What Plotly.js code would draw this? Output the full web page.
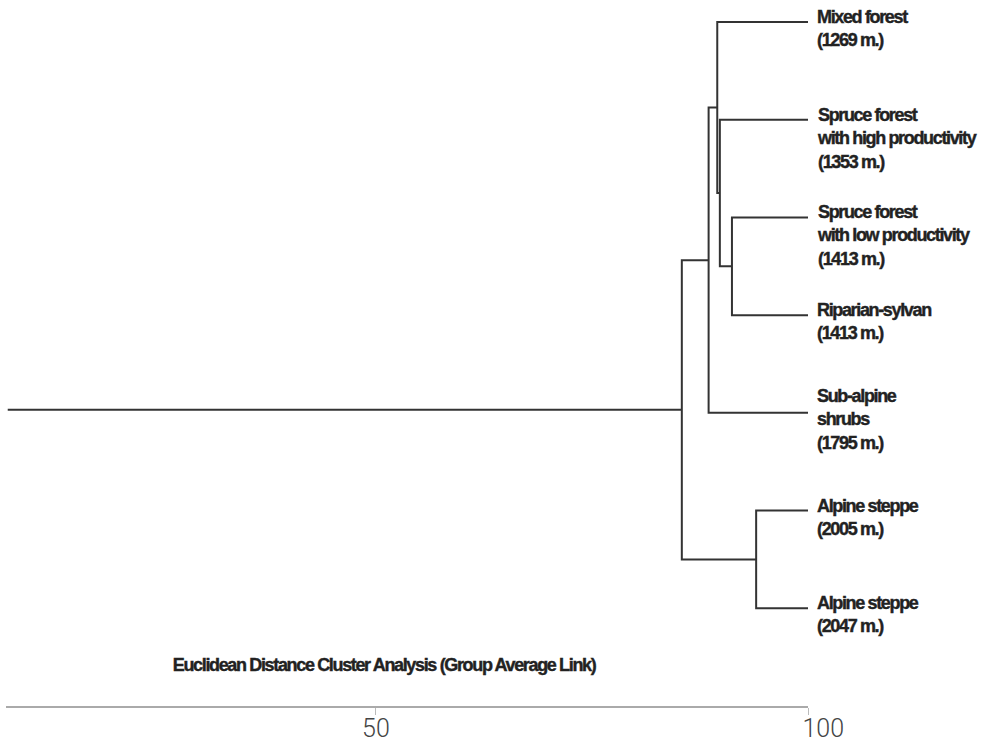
<!DOCTYPE html>
<html>
<head>
<meta charset="utf-8">
<script src="https://cdn.plot.ly/plotly-3.0.1.min.js"></script>
<style>
html, body { margin: 0; padding: 0; background: #fff; }
#chart { width: 983px; height: 741px; }
#chart .annotation-text { letter-spacing: -1.35px; stroke: #222; stroke-width: 0.4px; }
</style>
</head>
<body>
<div id="chart"></div>
<script>
// ---- data ----
const leafLabels = [
  "Mixed forest<br>(1269 m.)",
  "Spruce forest<br>with high productivity<br>(1353 m.)",
  "Spruce forest<br>with low productivity<br>(1413 m.)",
  "Riparian-sylvan<br>(1413 m.)",
  "Sub-alpine<br>shrubs<br>(1795 m.)",
  "Alpine steppe<br>(2005 m.)",
  "Alpine steppe<br>(2047 m.)"
];
const leafSimilarity = 100;
// merges (linkage): clusters numbered from leafLabels.length upward
const mergeA = [2, 1, 0, 9, 5, 10];
const mergeB = [3, 7, 8, 4, 6, 11];
const mergeLevel = [91.2, 89.8, 89.5, 88.5, 94.0, 85.4];
const stemStart = 7.4;
const tickVals = [50, 100];
const tickText = ["50", "\u00a0\u00a0\u00a0\u00a0\u00a0100"];
const axisTitle = "Euclidean Distance Cluster Analysis (Group Average Link)";

// ---- build dendrogram paths ----
const n = leafLabels.length;
const pos = [], lvl = [];
for (let i = 0; i < n; i++) { pos.push(i); lvl.push(leafSimilarity); }
const xs = [], ys = [];
for (let k = 0; k < mergeA.length; k++) {
  const a = mergeA[k], b = mergeB[k], h = mergeLevel[k];
  xs.push(lvl[a], h, h, lvl[b], null);
  ys.push(pos[a], pos[a], pos[b], pos[b], null);
  pos.push((pos[a] + pos[b]) / 2);
  lvl.push(h);
}
const root = pos.length - 1;
xs.push(lvl[root], stemStart);
ys.push(pos[root], pos[root]);

const lineFont = "'Liberation Sans', Arial, Helvetica, sans-serif";

const annotations = leafLabels.map((t, i) => ({
  x: leafSimilarity, y: i, xref: 'x', yref: 'y',
  text: t, showarrow: false, align: 'left',
  xanchor: 'left', yanchor: 'top',
  xshift: 7, yshift: (i === 4 ? 29 : 17),
  font: { family: lineFont, size: 18, color: '#222', weight: 700 }
}));
const mT = 10, mB = 35, H = 741;
annotations.push({
  x: 0.471, y: 1 - (665 - mT) / (H - mT - mB), xref: 'paper', yref: 'paper',
  text: axisTitle, showarrow: false, xanchor: 'center', yanchor: 'middle',
  font: { family: lineFont, size: 18, color: '#222', weight: 700 }
});

const data = [{
  type: 'scatter', mode: 'lines', x: xs, y: ys,
  line: { color: '#333', width: 2 }, hoverinfo: 'skip', cliponaxis: false
}];

const layout = {
  width: 983, height: 741,
  margin: { l: 6, r: 175, t: mT, b: mB },
  paper_bgcolor: '#fff', plot_bgcolor: '#fff',
  showlegend: false,
  xaxis: {
    range: [7.2, 100], showgrid: false, zeroline: false,
    showline: true, linecolor: '#aaa', linewidth: 1.5,
    ticks: 'outside', ticklen: 7, tickcolor: '#bbb', tickwidth: 1,
    tickvals: tickVals, ticktext: tickText, ticklabelstandoff: -8,
    tickfont: { family: "Roboto, 'Open Sans', sans-serif", size: 25, color: '#444', weight: 300 }
  },
  yaxis: {
    range: [7.0, -0.123], showgrid: false, zeroline: false,
    showline: false, showticklabels: false, ticks: ''
  },
  annotations: annotations
};

Plotly.newPlot('chart', data, layout, { displayModeBar: false, staticPlot: true });
</script>
</body>
</html>
